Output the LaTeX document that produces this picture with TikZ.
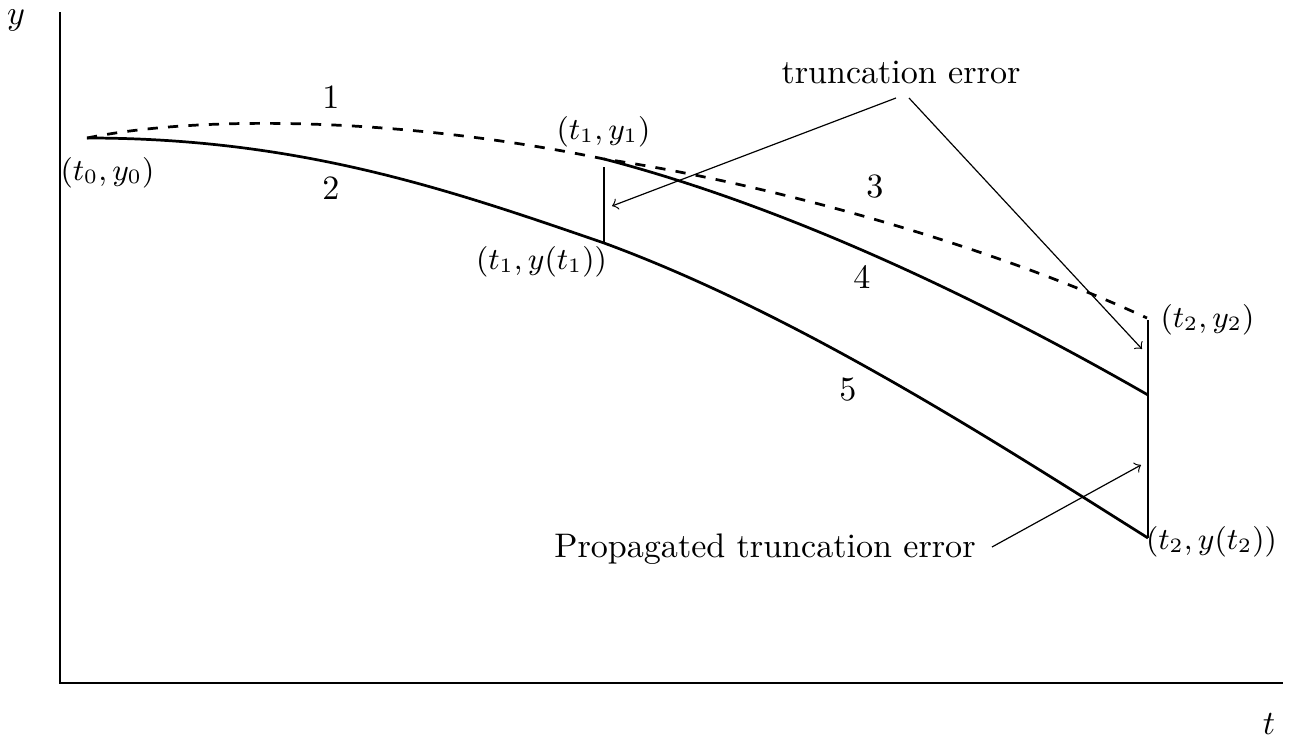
\documentclass[tikz,border=0pt]{standalone}
\begin{document}
\begin{tikzpicture}[x=0.01031cm,y=-0.01031cm,
  curve/.style={thick},
  thinline/.style={line width=0.35pt},
  pointer/.style={line width=0.35pt,->},
  lbl/.style={anchor=base,inner sep=0pt,outer sep=0pt},
  plbl/.style={lbl,font=\small}]
\useasboundingbox (0,0) rectangle (1295,740);
% axes
\coordinate (ytop) at (60,12);
\coordinate (orig) at (60,683);
\coordinate (xend) at (1283,683);
\draw[thinline] (ytop) -- (orig) -- (xend);
\node[lbl] (ylab) at (16,24) {$y$};
\node[lbl] (tlab) at (1269,734) {$t$};
% points
\coordinate (p0) at (87,138);
\coordinate (p1) at (604,159);
\coordinate (q1) at (604,243);
\coordinate (p2) at (1147,318);
\coordinate (r2) at (1148,395);
\coordinate (q2) at (1148,538);
\coordinate (v1top) at (604,167);
\coordinate (v2top) at (1148,320);
% curves
\draw[curve,dashed] (p0) .. controls (200,115) and (400,117) .. (p1)
  .. controls (780,185) and (1000,250) .. (p2);
\draw[curve] (p0) .. controls (300,138) and (450,190) .. (q1)
  .. controls (800,315) and (1000,445) .. (q2);
\draw[curve] (p1) .. controls (800,210) and (1000,310) .. (r2);
% verticals
\draw[thinline] (v1top) -- (q1);
\draw[thinline] (v2top) -- (q2);
% point labels
\node[plbl] (l0) at (107.5,180.3) {$(t_0,y_0)$};
\node[plbl] (l1) at (603.5,139.3) {$(t_1,y_1)$};
\node[plbl] (l1b) at (541.5,269.3) {$(t_1,y(t_1))$};
\node[plbl] (l2) at (1207.5,327.3) {$(t_2,y_2)$};
\node[plbl] (l2b) at (1211.5,549.3) {$(t_2,y(t_2))$};
% curve numbers
\node[lbl] (n1) at (331,108) {1};
\node[lbl] (n2) at (331,199) {2};
\node[lbl] (n3) at (875,197) {3};
\node[lbl] (n4) at (862,288) {4};
\node[lbl] (n5) at (848,400) {5};
% error labels
\node[lbl] (te) at (901,83) {truncation error};
\node[lbl] (pte) at (765,557) {Propagated truncation error};
\coordinate (te1) at (896,98);
\coordinate (te2) at (909,98);
\coordinate (a1) at (612,206);
\coordinate (a2) at (1142,349);
\coordinate (ps) at (992,547);
\coordinate (a3) at (1141,465);
\draw[pointer] (te1) -- (a1);
\draw[pointer] (te2) -- (a2);
\draw[pointer] (ps) -- (a3);
\end{tikzpicture}
\end{document}
